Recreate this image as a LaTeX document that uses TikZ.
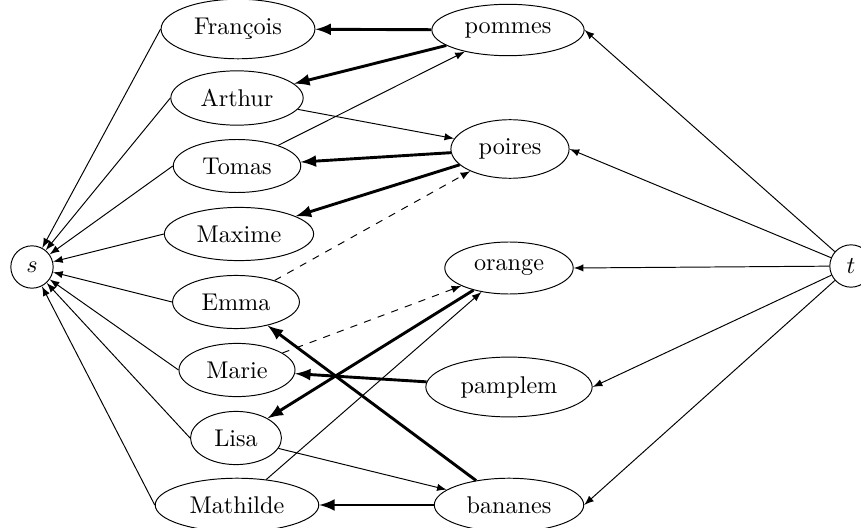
\documentclass[tikz,border=0pt]{standalone}
\usetikzlibrary{shapes.geometric}
\begin{document}
\begin{tikzpicture}[x=0.4132pt,y=-0.4132pt,
  person/.style={ellipse,draw,inner sep=4.3pt},
  fruit/.style={ellipse,draw,inner sep=4.3pt},
  term/.style={circle,draw,minimum size=17.5pt,inner sep=0pt},
  flow/.style={-latex},
  matched/.style={-latex,very thick},
  residual/.style={-latex,dashed}]
\useasboundingbox (0,0) rectangle (861,528);

% source and sink
\node[term] (s) at (32,267) {$s$};
\node[term] (t) at (851,266) {$t$};

% people
\node[person] (francois) at (238,29)  {François};
\node[person] (arthur)   at (237,98)  {Arthur};
\node[person] (tomas)    at (237,166) {Tomas};
\node[person] (maxime)   at (239,234) {Maxime};
\node[person] (emma)     at (236,302) {Emma};
\node[person] (marie)    at (237,370) {Marie};
\node[person] (lisa)     at (236,438) {Lisa};
\node[person] (mathilde) at (237,505) {Mathilde};

% fruits
\node[fruit] (pommes)  at (508,30)  {pommes};
\node[fruit] (poires)  at (510,149) {poires};
\node[fruit] (orange)  at (509,268) {orange};
\node[fruit] (pamplem) at (509,387) {pamplem};
\node[fruit] (bananes) at (509,505) {bananes};

% people to source
\foreach \p in {francois,arthur,tomas,maxime,emma,marie,lisa,mathilde}
  \draw[flow] (\p.west) -- (s);

% sink to fruits
\foreach \f in {pommes,poires,orange,pamplem,bananes}
  \draw[flow] (t) -- (\f.east);

% matched edges
\draw[matched] (pommes)  -- (francois);
\draw[matched] (pommes)  -- (arthur);
\draw[matched] (poires)  -- (tomas);
\draw[matched] (poires)  -- (maxime);
\draw[matched] (orange)  -- (lisa);
\draw[matched] (pamplem) -- (marie);
\draw[matched] (bananes) -- (emma);
\draw[matched] (bananes) -- (mathilde);

% unmatched edges
\draw[flow] (arthur)   -- (poires);
\draw[flow] (tomas)    -- (pommes);
\draw[flow] (lisa)     -- (bananes);
\draw[flow] (mathilde) -- (orange);

% residual edges
\draw[residual] (emma)  -- (poires);
\draw[residual] (marie) -- (orange);
\end{tikzpicture}
\end{document}
